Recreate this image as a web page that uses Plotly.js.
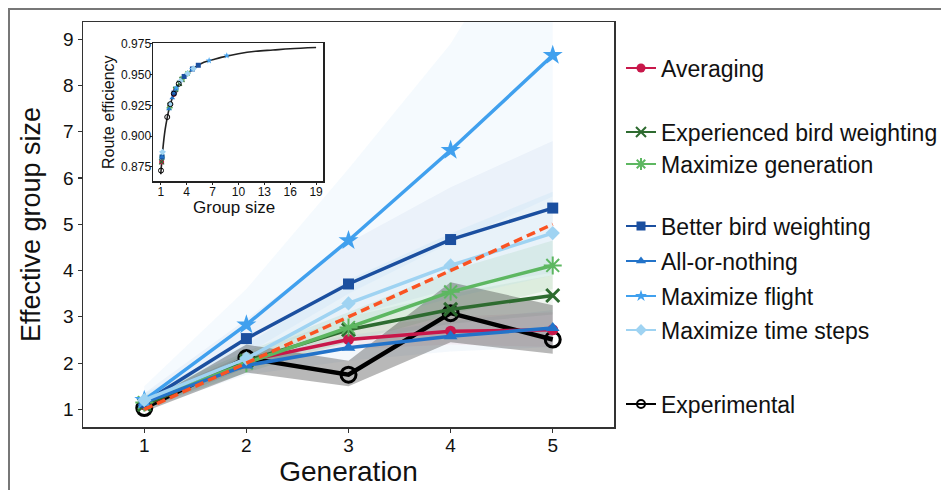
<!DOCTYPE html>
<html>
<head>
<meta charset="utf-8">
<script src="https://cdn.plot.ly/plotly-3.0.1.min.js"></script>
<style>
  html, body { margin: 0; padding: 0; background: #fff; }
  #wrap { position: relative; width: 941px; height: 490px; overflow: hidden; }
  #chart { width: 941px; height: 490px; }
  #frame { position: absolute; left: 8px; top: 8px; width: 960px; height: 520px;
           border-left: 2px solid #777; border-top: 2px solid #777; pointer-events: none; }
</style>
</head>
<body>
<div id="wrap"><div id="chart"></div><div id="frame"></div></div>
<script>
// ---- Data ----
const generations = [1, 2, 3, 4, 5];

const averaging      = [1.10, 2.05, 2.51, 2.69, 2.72];
const averagingLo    = [1.00, 1.90, 2.30, 2.40, 2.35];
const averagingHi    = [1.20, 2.20, 2.75, 3.00, 3.10];

const experienced    = [1.10, 2.05, 2.72, 3.16, 3.46];
const experiencedLo  = [1.00, 1.90, 2.45, 2.85, 3.05];
const experiencedHi  = [1.20, 2.20, 3.00, 3.50, 3.90];

const maxGeneration   = [1.15, 2.00, 2.77, 3.54, 4.11];
const maxGenerationLo = [1.02, 1.80, 2.45, 3.05, 3.60];
const maxGenerationHi = [1.30, 2.25, 3.10, 4.00, 4.65];

const betterBird     = [1.15, 2.53, 3.71, 4.67, 5.35];
const betterBirdLo   = [1.00, 2.10, 3.00, 3.60, 3.95];
const betterBirdHi   = [1.35, 2.95, 4.60, 5.80, 6.80];

const allOrNothing   = [1.15, 1.95, 2.33, 2.58, 2.76];
const allOrNothingLo = [1.00, 1.75, 2.05, 2.25, 2.35];
const allOrNothingHi = [1.30, 2.15, 2.60, 2.90, 3.15];

const maxFlight      = [1.20, 2.83, 4.65, 6.60, 8.65];
const maxFlightLo    = [1.00, 2.20, 3.50, 4.60, 5.60];
const maxFlightHi    = [1.50, 3.60, 6.20, 8.90, 12.5];

const maxTimeSteps   = [1.20, 2.10, 3.29, 4.11, 4.81];
const maxTimeStepsLo = [1.05, 1.80, 2.80, 3.40, 3.90];
const maxTimeStepsHi = [1.35, 2.40, 3.80, 4.80, 5.70];

const experimental   = [1.03, 2.11, 1.75, 3.08, 2.51];
const experimentalLo = [0.95, 1.80, 1.50, 2.45, 2.20];
const experimentalHi = [1.12, 2.40, 2.05, 3.75, 3.25];

const idealLine      = [1, 2, 3, 4, 5];

// Inset: route efficiency curve vs group size
const curveGroupSize  = [1, 1.25, 1.5, 1.75, 2, 2.5, 3, 3.5, 4, 5, 6, 7, 8, 10, 12, 14, 16, 19];
const curveEfficiency = [0.869, 0.890, 0.905, 0.915, 0.923, 0.934, 0.941, 0.946, 0.950, 0.956,
                         0.960, 0.962, 0.964, 0.967, 0.969, 0.970, 0.971, 0.972];

// Inset marker efficiencies (one per generation)
const averagingEff    = [0.879, 0.925, 0.934, 0.937, 0.938];
const experiencedEff  = [0.879, 0.925, 0.938, 0.943, 0.946];
const maxGenerationEff= [0.883, 0.923, 0.9385, 0.947, 0.951];
const betterBirdEff   = [0.883, 0.935, 0.9485, 0.9546, 0.9576];
const allOrNothingEff = [0.883, 0.922, 0.931, 0.9356, 0.9384];
const maxFlightEff    = [0.887, 0.9394, 0.9545, 0.9614, 0.9654];
const maxTimeStepsEff = [0.887, 0.926, 0.9448, 0.951, 0.955];
const experimentalEff = [0.872, 0.926, 0.9155, 0.9425, 0.9345];

const yTicks = [1, 2, 3, 4, 5, 6, 7, 8, 9];
const insetXTicks = [1, 4, 7, 10, 13, 16, 19];
const insetYTicks = [0.875, 0.900, 0.925, 0.950, 0.975];

// ---- Series definitions ----
const series = [
  {name: 'Averaging', y: averaging, lo: averagingLo, hi: averagingHi, eff: averagingEff,
   color: '#C8174A', band: 'rgba(200,23,74,0.05)', symbol: 'circle', size: 11, lw: 0, legend: 'legend', ly: 68},
  {name: 'Experienced bird weighting', y: experienced, lo: experiencedLo, hi: experiencedHi, eff: experiencedEff,
   color: '#2E6B30', band: 'rgba(46,107,48,0.07)', symbol: 'x-thin-open', size: 13, lw: 3, legend: 'legend2', ly: 132},
  {name: 'Maximize generation', y: maxGeneration, lo: maxGenerationLo, hi: maxGenerationHi, eff: maxGenerationEff,
   color: '#5DB761', band: 'rgba(93,183,97,0.12)', symbol: 'asterisk-open', size: 15, lw: 2, legend: 'legend3', ly: 164},
  {name: 'Better bird weighting', y: betterBird, lo: betterBirdLo, hi: betterBirdHi, eff: betterBirdEff,
   color: '#1B4F9F', band: 'rgba(27,79,159,0.045)', symbol: 'square', size: 11, lw: 0, legend: 'legend4', ly: 226},
  {name: 'All-or-nothing', y: allOrNothing, lo: allOrNothingLo, hi: allOrNothingHi, eff: allOrNothingEff,
   color: '#2373C9', band: 'rgba(35,115,201,0.05)', symbol: 'triangle-up', size: 12, lw: 0, legend: 'legend5', ly: 261},
  {name: 'Maximize flight', y: maxFlight, lo: maxFlightLo, hi: maxFlightHi, eff: maxFlightEff,
   color: '#40A0EE', band: 'rgba(64,160,238,0.05)', symbol: 'star', size: 15, lw: 0, legend: 'legend6', ly: 296},
  {name: 'Maximize time steps', y: maxTimeSteps, lo: maxTimeStepsLo, hi: maxTimeStepsHi, eff: maxTimeStepsEff,
   color: '#9FD3F2', band: 'rgba(158,211,240,0.14)', symbol: 'diamond', size: 11, lw: 0, legend: 'legend7', ly: 330}
];
const expSeries = {name: 'Experimental', y: experimental, lo: experimentalLo, hi: experimentalHi, eff: experimentalEff,
   color: '#000000', band: 'rgba(20,20,20,0.30)', legend: 'legend8', ly: 404};

const traces = [];
function band(s) {
  return {
    type: 'scatter', mode: 'lines', xaxis: 'x', yaxis: 'y',
    x: generations.concat(generations.slice().reverse()),
    y: s.hi.concat(s.lo.slice().reverse()),
    fill: 'toself', fillcolor: s.band, line: {width: 0}, hoverinfo: 'skip', showlegend: false
  };
}
series.forEach(s => traces.push(band(s)));
traces.push(band(expSeries));

// Experimental line
traces.push({
  type: 'scatter', mode: 'lines+markers', x: generations, y: expSeries.y, xaxis: 'x', yaxis: 'y',
  line: {color: '#000', width: 4.5},
  marker: {symbol: 'circle-open', size: 15, color: '#000', line: {width: 3, color: '#000'}},
  showlegend: false
});

// Model lines
series.forEach(s => {
  const isLineSym = s.lw > 0;
  traces.push({
    type: 'scatter', mode: 'lines+markers', x: generations, y: s.y, xaxis: 'x', yaxis: 'y',
    line: {color: s.color, width: 3.5},
    marker: isLineSym ? {symbol: s.symbol, size: s.size, color: s.color, line: {width: s.lw, color: s.color}}
                      : {symbol: s.symbol, size: s.size, color: s.color, line: {width: 0}},
    showlegend: false
  });
});

// Ideal dashed line
traces.push({
  type: 'scatter', mode: 'lines', x: generations, y: idealLine, xaxis: 'x', yaxis: 'y',
  line: {color: '#FA5322', width: 3.5, dash: '9px,5px'}, showlegend: false
});

// Inset curve
traces.push({
  type: 'scatter', mode: 'lines', x: curveGroupSize, y: curveEfficiency, xaxis: 'x2', yaxis: 'y2',
  line: {color: '#222', width: 1.6, shape: 'spline'}, showlegend: false
});
// Inset markers
series.forEach(s => {
  const isLineSym = s.lw > 0;
  traces.push({
    type: 'scatter', mode: 'markers', x: s.y, y: s.eff, xaxis: 'x2', yaxis: 'y2',
    marker: {symbol: s.symbol, size: 5, color: s.color, line: {width: isLineSym ? 1.2 : 0, color: s.color}},
    showlegend: false
  });
});
traces.push({
  type: 'scatter', mode: 'markers', x: expSeries.y, y: expSeries.eff, xaxis: 'x2', yaxis: 'y2',
  marker: {symbol: 'circle-open', size: 5, color: '#000', line: {width: 1, color: '#000'}},
  showlegend: false
});

// Legend entries (one legend per entry, for exact placement, positioned in container pixels)
const W = 941, H = 490, ML = 83, MR = 327, MT = 22, MB = 63;
const plotW = W - ML - MR, plotH = H - MT - MB;
const layoutLegends = {};
const legFont = {family: 'Liberation Sans, Arial, sans-serif', size: 23, color: '#111'};
function addLegend(s, isExp) {
  const key = s.legend;
  let marker;
  if (isExp) marker = {symbol: 'circle-open', size: 8, color: '#000', line: {width: 2, color: '#000'}};
  else if (s.lw > 0) marker = {symbol: s.symbol, size: 10, color: s.color, line: {width: 2, color: s.color}};
  else marker = {symbol: s.symbol, size: 9, color: s.color, line: {width: 0}};
  traces.push({
    type: 'scatter', mode: 'lines+markers', x: [null], y: [null], xaxis: 'x', yaxis: 'y',
    name: s.name, legend: key, line: {color: s.color, width: 2}, marker: marker, showlegend: true
  });
  layoutLegends[key] = {
    xref: 'container', yref: 'container',
    x: 621 / W, xanchor: 'left', y: (H - s.ly) / H, yanchor: 'middle',
    font: legFont, bgcolor: 'rgba(0,0,0,0)', borderwidth: 0, itemclick: false
  };
}
series.forEach(s => addLegend(s, false));
addLegend(expSeries, true);

const font = {family: 'Liberation Sans, Arial, sans-serif', color: '#111'};
const layout = Object.assign({
  width: W, height: H,
  margin: {l: ML, r: MR, t: MT, b: MB, autoexpand: false},
  paper_bgcolor: '#fff', plot_bgcolor: '#fff',
  font: font,
  showlegend: true,
  xaxis: {
    domain: [0, 1], range: [0.4, 5.6], tickvals: generations, ticks: 'outside', ticklen: 4, tickwidth: 1.2,
    tickcolor: '#333', showline: true, mirror: true, linecolor: '#333', linewidth: 1.5,
    showgrid: false, zeroline: false, tickfont: {size: 19, color: '#111'}, ticklabelstandoff: -3,
    title: {text: 'Generation', font: {size: 28, color: '#111'}, standoff: 3}
  },
  yaxis: {
    domain: [0, 1], range: [0.62, 9.37], tickvals: yTicks, ticks: 'outside', ticklen: 4, tickwidth: 1.2,
    tickcolor: '#333', showline: true, mirror: true, linecolor: '#333', linewidth: 1.5,
    showgrid: false, zeroline: false, tickfont: {size: 19, color: '#111'},
    title: {text: 'Effective group size', font: {size: 27, color: '#111'}, standoff: 14}
  },
  xaxis2: {
    anchor: 'y2', domain: [(153 - ML) / plotW, (323 - ML) / plotW], range: [0.1, 19.8],
    tickvals: insetXTicks, ticks: 'outside', ticklen: 2, tickcolor: '#222',
    showline: true, mirror: true, linecolor: '#222', linewidth: 1.5, showgrid: false, zeroline: false,
    tickfont: {size: 12, color: '#111'}, ticklabelstandoff: -3
  },
  yaxis2: {
    anchor: 'x2', domain: [(H - MB - 181) / plotH, (H - MB - 43) / plotH], range: [0.8635, 0.9757],
    tickvals: insetYTicks, tickformat: '.3f', ticks: 'outside', ticklen: 2, tickcolor: '#222',
    showline: true, mirror: true, linecolor: '#222', linewidth: 1.5, showgrid: false, zeroline: false,
    tickfont: {size: 12, color: '#111'}, ticklabelstandoff: -4
  },
  annotations: [
    {text: 'Group size', xref: 'paper', yref: 'paper', x: (234 - ML) / plotW, y: (H - MB - 207) / plotH,
     xanchor: 'center', yanchor: 'middle', showarrow: false, font: {size: 17, color: '#111'}},
    {text: 'Route efficiency', xref: 'paper', yref: 'paper', x: (108 - ML) / plotW, y: (H - MB - 112) / plotH,
     xanchor: 'center', yanchor: 'middle', textangle: -90, showarrow: false, font: {size: 16, color: '#111'}}
  ]
}, layoutLegends);

Plotly.newPlot('chart', traces, layout, {staticPlot: true, displayModeBar: false});
</script>
</body>
</html>
